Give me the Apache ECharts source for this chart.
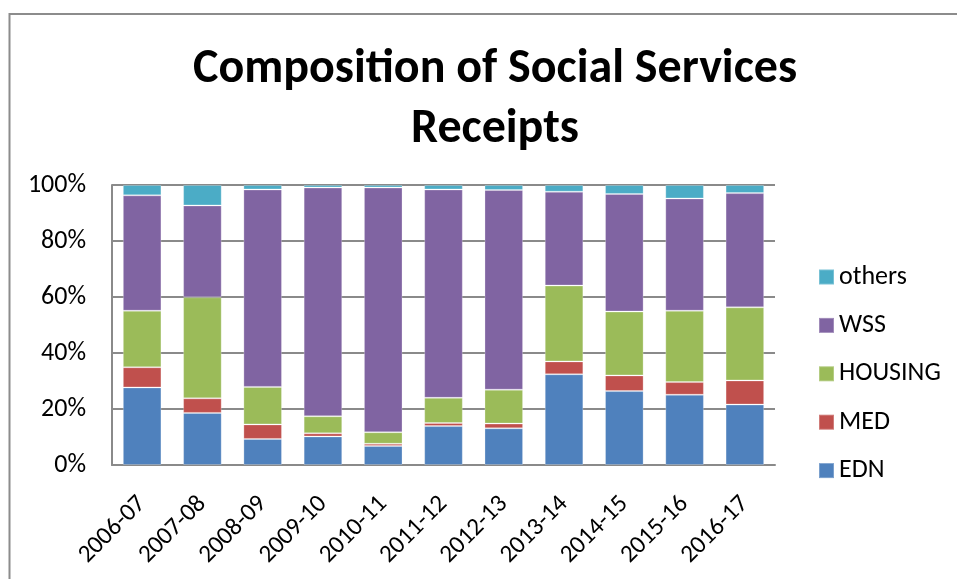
<!DOCTYPE html>
<html>
<head>
<meta charset="utf-8">
<script src="https://cdn.jsdelivr.net/npm/echarts@6/dist/echarts.min.js"></script>
<style>
  html, body { margin: 0; padding: 0; background: #fff; }
  #chart { width: 957px; height: 579px; }
</style>
</head>
<body>
<div id="chart"></div>
<script>
// Fiscal years on the category axis
const years = ['2006-07', '2007-08', '2008-09', '2009-10', '2010-11', '2011-12',
               '2012-13', '2013-14', '2014-15', '2015-16', '2016-17'];

// Share of receipts (%) per component, bottom of the stack first
const edn     = [27.7, 18.6,  9.3, 10.2,  6.8, 13.9, 13.1, 32.4, 26.4, 25.1, 21.6];
const med     = [ 7.2,  5.2,  5.2,  1.1,  0.8,  1.1,  1.7,  4.6,  5.6,  4.5,  8.6];
const housing = [20.2, 36.1, 13.4,  6.1,  4.1,  9.0, 12.1, 27.1, 22.8, 25.5, 26.1];
const wss     = [41.2, 32.8, 70.5, 81.7, 87.4, 74.4, 71.3, 33.5, 42.0, 40.1, 40.8];
const others  = [ 3.7,  7.3,  1.6,  0.9,  0.9,  1.6,  1.8,  2.4,  3.2,  4.8,  2.9];

const yTicks = [0, 20, 40, 60, 80, 100];

const FONT = 'Carlito, Calibri, "Open Sans", sans-serif';

const layers = [
  { name: 'EDN',     data: edn,     color: '#4F81BD' },
  { name: 'MED',     data: med,     color: '#C0504D' },
  { name: 'HOUSING', data: housing, color: '#9BBB59' },
  { name: 'WSS',     data: wss,     color: '#8064A2' },
  { name: 'others',  data: others,  color: '#4BACC6' }
];

const chart = echarts.init(document.getElementById('chart'), null, { renderer: 'canvas' });

chart.setOption({
  backgroundColor: '#ffffff',
  animation: false,
  title: {
    text: 'Composition of Social Services\nReceipts',
    left: 490,
    top: 35,
    textAlign: 'center',
    textStyle: {
      fontFamily: FONT,
      fontWeight: 'bold',
      fontSize: 48,
      lineHeight: 60,
      color: '#000'
    }
  },
  graphic: [{
    type: 'rect',
    shape: { x: 9.5, y: 14, width: 1000, height: 1000 },
    style: { fill: 'none', stroke: '#8c8c8c', lineWidth: 2 },
    silent: true
  }],
  legend: {
    orient: 'vertical',
    left: 818,
    top: 264,
    padding: 0,
    itemWidth: 15,
    itemHeight: 15,
    itemGap: 22.4,
    icon: 'rect',
    data: ['others', 'WSS', 'HOUSING', 'MED', 'EDN'],
    textStyle: { fontFamily: FONT, fontSize: 26, lineHeight: 26, color: '#000' }
  },
  grid: { left: 112, right: 182, top: 185, bottom: 114 },
  xAxis: {
    type: 'category',
    data: years,
    axisLine: { lineStyle: { color: '#8a8a8a', width: 2 } },
    axisTick: { show: false },
    axisLabel: {
      rotate: 45,
      interval: 0,
      margin: 35,
      fontFamily: FONT,
      fontSize: 25,
      color: '#000'
    }
  },
  yAxis: {
    type: 'value',
    min: yTicks[0],
    max: yTicks[yTicks.length - 1],
    interval: yTicks[1] - yTicks[0],
    axisLine: { show: true, lineStyle: { color: '#8a8a8a', width: 2 } },
    axisTick: { show: false },
    splitLine: { lineStyle: { color: '#8a8a8a', width: 2 } },
    axisLabel: {
      formatter: '{value}%',
      margin: 26,
      fontFamily: FONT,
      fontSize: 26,
      color: '#000'
    }
  },
  series: layers.map(l => ({
    name: l.name,
    type: 'bar',
    stack: 'share',
    data: l.data,
    barCategoryGap: '36%',
    itemStyle: {
      color: l.color,
      borderColor: 'rgba(255,255,255,0.25)',
      borderWidth: 1
    }
  }))
});
</script>
</body>
</html>
